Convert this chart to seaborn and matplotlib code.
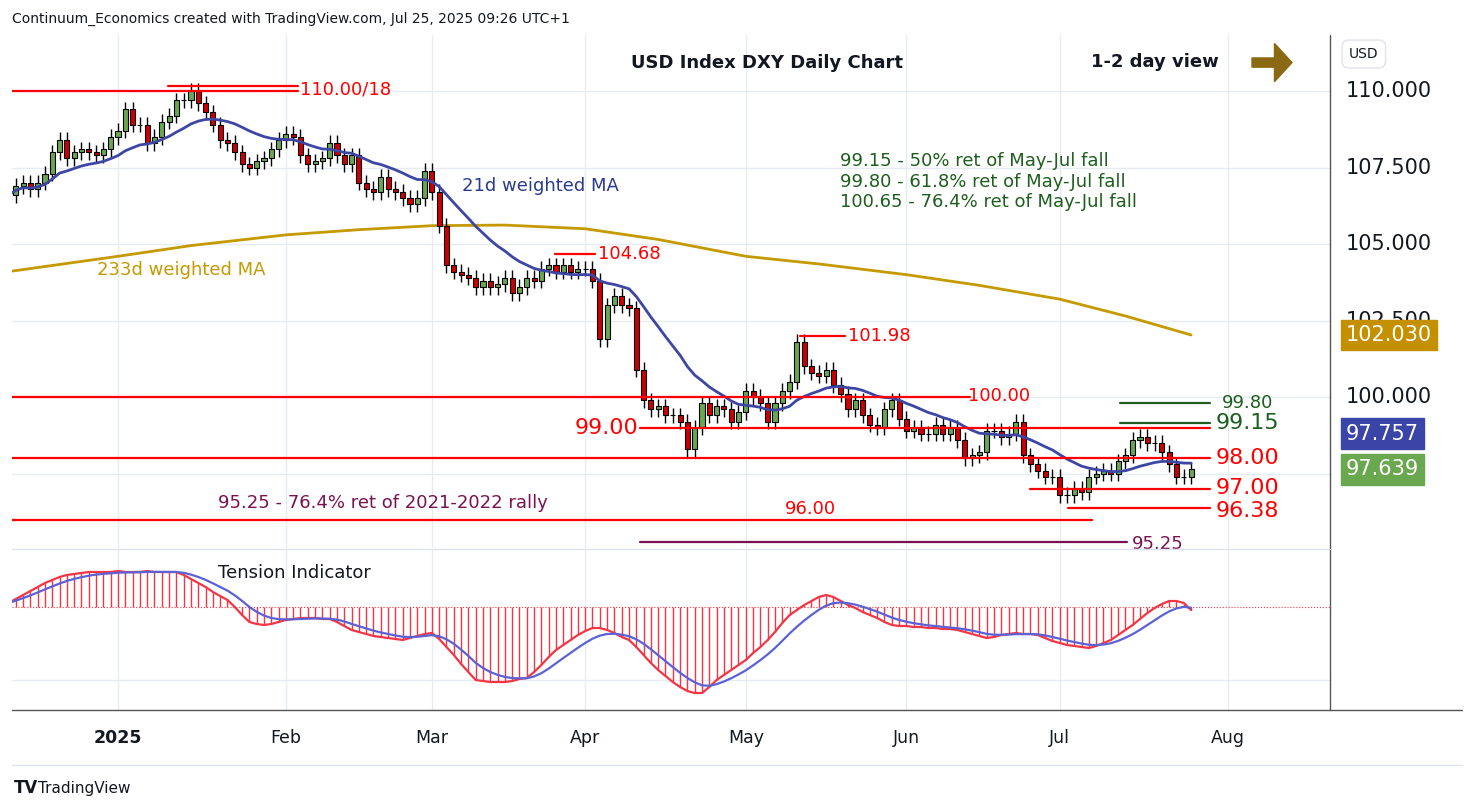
import numpy as np
import pandas as pd
import matplotlib
matplotlib.use("Agg")
import matplotlib.pyplot as plt
import matplotlib.transforms as mtransforms
from matplotlib.patches import FancyArrow
import seaborn as sns

# ---------------- data ----------------
dates = pd.bdate_range("2024-12-11", "2025-07-25")
closes = [
    106.6,106.9,107.0,106.8,107.0,107.3,108.0,108.4,107.8,108.0,108.1,108.0,107.9,108.1,108.5,
    108.7,109.4,108.9,108.9,108.3,108.5,109.0,109.2,109.7,109.7,110.0,109.6,109.3,108.9,108.4,
    108.3,108.0,107.6,107.5,107.7,107.8,108.1,108.4,
    108.6,108.5,107.9,107.6,107.7,107.8,108.3,107.9,107.6,107.9,107.0,106.8,106.7,107.2,106.8,
    106.7,106.5,106.3,106.5,107.4,
    106.7,105.6,104.3,104.1,104.0,103.9,103.6,103.8,103.6,103.7,103.9,103.4,103.6,103.9,103.8,
    104.2,104.3,104.1,104.3,104.1,104.2,
    104.2,103.8,101.9,103.0,103.3,103.0,102.9,100.9,99.9,99.6,99.7,99.4,99.4,99.2,98.3,
    99.0,99.8,99.4,99.7,99.6,99.2,99.5,
    100.2,100.0,99.8,99.2,99.8,100.2,100.5,101.8,101.0,100.8,100.7,100.9,100.4,100.1,99.6,
    99.9,99.4,99.1,99.0,99.6,99.9,99.3,
    98.9,99.0,98.8,98.8,99.1,98.8,99.0,98.6,98.0,98.1,98.2,98.9,98.9,98.7,98.8,
    99.2,98.1,97.8,97.6,97.4,97.4,
    96.8,96.8,97.0,96.9,97.4,97.5,97.6,97.5,97.9,98.1,98.6,98.7,98.5,98.5,98.2,
    97.8,97.4,97.4,97.64,
]
first_open = 106.4

ma233_dates = ["2024-12-11","2025-01-01","2025-01-15","2025-02-03","2025-02-17","2025-03-03",
               "2025-03-17","2025-04-01","2025-04-15","2025-05-01","2025-05-15","2025-06-02",
               "2025-06-16","2025-07-01","2025-07-14","2025-07-25"]
ma233_vals = [104.1,104.6,104.95,105.3,105.47,105.6,105.62,105.5,105.15,104.6,104.35,104.0,
              103.65,103.2,102.65,102.03]

tension = [
    4,8,12,16,20,24,27,30,32,
    33,34,35,35,35,35,36,35,35,35,36,35,35,35,35,
    32,28,24,20,15,11,7,
    0,-8,-15,-17,-18,
    -17,-15,-13,-12,-11,
    -11,-11,-12,-12,
    -15,-19,-23,
    -25,-27,-29,-30,-31,-32,-33,
    -31,-29,-27,-26,
    -32,-40,-48,
    -57,-65,-73,-74,-75,-75,
    -75,-74,-72,-71,
    -65,-58,-50,-43,
    -38,-33,-28,-24,-21,
    -21,-23,
    -26,-30,-33,
    -40,-48,-56,-63,
    -69,-75,-80,-84,-86,-86,
    -80,-73,
    -68,-63,-58,-53,
    -46,-40,-33,
    -25,-16,-8,
    -3,2,6,10,12,
    10,6,2,
    -1,-5,-8,
    -11,-15,-18,
    -19,-19,-20,-20,
    -21,-21,-22,-22,-23,
    -25,-27,-29,-31,
    -30,-28,-27,-26,
    -27,-27,-28,
    -31,-34,-36,-38,
    -39,-40,-41,
    -39,-36,-33,
    -28,-23,-18,
    -12,-6,-1,
    3,6,
    6,4,-3,
]

month_labels = ["2025", "Feb", "Mar", "Apr", "May", "Jun", "Jul", "Aug"]
month_starts = ["2025-01-01","2025-02-03","2025-03-03","2025-04-01","2025-05-01",
                "2025-06-02","2025-07-01","2025-08-01"]

# ---------------- derived ----------------
n = len(closes)
idx = np.arange(n)
c = np.array(closes)
o = np.concatenate([[first_open], c[:-1]])
hi = np.maximum(o, c) + 0.25
lo = np.minimum(o, c) - 0.25
allb = pd.bdate_range("2024-12-11", "2025-08-29")
pos = {d: i for i, d in enumerate(allb)}
mpos = [pos[pd.Timestamp(d)] for d in month_starts]

w = np.arange(1, 22)
wma = []
for i in range(n):
    seg = c[max(0, i - 20):i + 1]
    ww = w[-len(seg):]
    wma.append((seg * ww).sum() / ww.sum())
df = pd.DataFrame({"i": idx, "wma": wma, "t": tension})
df["tb"] = pd.Series(tension, dtype=float).ewm(span=6).mean()
ma233 = pd.DataFrame({"i": [pos[pd.Timestamp(d)] for d in ma233_dates], "v": ma233_vals})

# ---------------- figure ----------------
sns.set_theme(style="white")
plt.rcParams['font.family'] = ['DejaVu Sans']
W, H = 1474, 809
fig = plt.figure(figsize=(W / 100, H / 100), dpi=100)
fig.patch.set_facecolor("white")

def rect(x0, y0, x1, y1):
    return [x0 / W, 1 - y1 / H, (x1 - x0) / W, (y1 - y0) / H]

ax = fig.add_axes(rect(12, 35, 1330, 548))
ax2 = fig.add_axes(rect(12, 550, 1330, 710), sharex=ax)

xl = ((12 - 8.5) / 7.3, (1330 - 8.5) / 7.3)
ax.set_xlim(*xl)
ax.set_ylim(95.07, 111.83)
ax2.set_ylim(-103, 57)

for a in (ax, ax2):
    for s in a.spines.values():
        s.set_visible(False)
    a.set_yticks([])
    for m in mpos:
        a.axvline(m, color="#e6ecf2", lw=1, zorder=0)
for v in [110, 107.5, 105, 102.5, 100, 97.5]:
    ax.axhline(v, color="#e6ecf2", lw=1, zorder=0)
ax2.axhline(-73, color="#e6ecf2", lw=1, zorder=0)
ax.tick_params(axis="x", length=0, labelbottom=False)
ax2.set_xticks(mpos)
ax2.set_xticklabels(month_labels)
ax2.tick_params(axis="x", length=0, labelsize=12.5, pad=14, colors="#131722")
ax2.get_xticklabels()[0].set_fontweight("bold")

fig.add_artist(plt.Line2D([1330 / W, 1330 / W], [1 - 710 / H, 1 - 35 / H], color="#555", lw=1))
fig.add_artist(plt.Line2D([12 / W, 1330 / W], [1 - 549 / H] * 2, color="#e0e3eb", lw=1))
fig.add_artist(plt.Line2D([12 / W, 1462 / W], [1 - 710 / H] * 2, color="#555", lw=1))
fig.add_artist(plt.Line2D([12 / W, 1462 / W], [1 - 765 / H] * 2, color="#e0e3eb", lw=1))

# candles
up = c >= o
ax.vlines(idx, lo, hi, color="black", lw=1, zorder=3)
ax.bar(idx[up], (c - o)[up], bottom=o[up], width=0.7, color="#6aa84f",
       edgecolor="black", lw=0.8, zorder=4)
ax.bar(idx[~up], (c - o)[~up], bottom=o[~up], width=0.7, color="#cc0000",
       edgecolor="black", lw=0.8, zorder=4)

sns.lineplot(data=df, x="i", y="wma", ax=ax, color="#3d47a3", lw=2, zorder=5, legend=False)
sns.lineplot(data=ma233, x="i", y="v", ax=ax, color="#c49a00", lw=2, zorder=2, legend=False)
ax.set_xlabel(""); ax.set_ylabel("")

def px2i(x):
    return (x - 8.5) / 7.3

red = "#ff0000"
def hline(y, x0, x1, col=red, lw=1.6):
    ax.plot([px2i(x0), px2i(x1)], [y, y], color=col, lw=lw, zorder=6)

hline(110.0, 12, 298); hline(110.18, 168, 298)
hline(104.68, 555, 595); hline(101.98, 800, 845)
hline(100.0, 12, 970); hline(99.0, 640, 1210); hline(98.0, 12, 1210)
hline(97.0, 1030, 1210); hline(96.38, 1068, 1210); hline(96.0, 12, 1092)
hline(95.25, 640, 1127, col="#7b1150")
hline(99.80, 1120, 1210, col="#1e5e1e"); hline(99.15, 1120, 1210, col="#1e5e1e")

def txt(x, y, s, col, size, **kw):
    ax.text(px2i(x), y, s, color=col, fontsize=size, va="center", zorder=7, **kw)

M = 13
B = 16
txt(300, 110.05, "110.00/18", red, M)
txt(598, 104.68, "104.68", red, M)
txt(848, 101.98, "101.98", red, M)
txt(968, 100.05, "100.00", red, M)
txt(638, 99.0, "99.00", red, B, ha="right")
txt(785, 96.33, "96.00", red, M)
txt(1132, 95.2, "95.25", "#7b1150", M)
txt(1222, 99.8, "99.80", "#1e5e1e", M)
txt(1216, 99.15, "99.15", "#1e5e1e", B)
txt(1216, 98.0, "98.00", red, B)
txt(1216, 97.03, "97.00", red, B)
txt(1216, 96.27, "96.38", red, B)
txt(218, 96.55, "95.25 - 76.4% ret of 2021-2022 rally", "#7b1150", M)
txt(97, 104.14, "233d weighted MA", "#c49a00", M)
txt(462, 106.9, "21d weighted MA", "#2a3a8f", M)
txt(840, 107.7, "99.15 - 50% ret of May-Jul fall", "#1e5e1e", M)
txt(840, 107.03, "99.80 - 61.8% ret of May-Jul fall", "#1e5e1e", M)
txt(840, 106.36, "100.65 - 76.4% ret of May-Jul fall", "#1e5e1e", M)
txt(767, 110.93, "USD Index DXY Daily Chart", "#131722", M, ha="center", fontweight="bold")
txt(1155, 110.96, "1-2 day view", "#131722", M, ha="center", fontweight="bold")
ax.add_patch(FancyArrow(px2i(1252), 110.93, px2i(1292) - px2i(1252), 0, width=0.3,
                        head_width=1.25, head_length=2.4, length_includes_head=True,
                        color="#8b6914", zorder=7))

# right price labels
tr = mtransforms.blended_transform_factory(fig.transFigure, ax.transData)
for v, s in [(110, "110.000"), (107.5, "107.500"), (105, "105.000"), (102.5, "102.500"), (100, "100.000")]:
    ax.text(1346 / W, v, s, transform=tr, fontsize=15, color="#131722", va="center",
            clip_on=False, zorder=8)
def tag(v, s, col):
    ax.text(1346 / W, v, s, transform=tr, fontsize=15, color="white", va="center", clip_on=False,
            zorder=10, bbox=dict(boxstyle="square,pad=0.25", fc=col, ec=col))
tag(102.03, "102.030", "#c49000")
tag(97.757 + 1.05, "97.757", "#3b45a8")
tag(97.639, "97.639", "#6aa84f")
fig.text(1349 / W, 1 - 54 / H, "USD", fontsize=10, color="#131722", va="center",
         bbox=dict(boxstyle="round,pad=0.5", fc="white", ec="#e0e3eb"))

# tension indicator
ax2.vlines(idx, 0, df["t"], color="#f23645", lw=1, zorder=2)
ax2.axhline(0, color="#f23645", lw=0.8, ls=":", zorder=1)
sns.lineplot(data=df, x="i", y="t", ax=ax2, color="#f23645", lw=1.6, zorder=3, legend=False)
sns.lineplot(data=df, x="i", y="tb", ax=ax2, color="#5a62d6", lw=1.6, zorder=4, legend=False)
ax2.set_xlabel(""); ax2.set_ylabel("")
ax2.text(px2i(218), 34, "Tension Indicator", fontsize=13, color="#131722", va="center")

fig.text(12 / W, 1 - 19 / H, "Continuum_Economics created with TradingView.com, Jul 25, 2025 09:26 UTC+1",
         fontsize=10, color="#131722", va="center")
fig.text(14 / W, 1 - 788 / H, "TV", fontsize=12, fontweight="bold", color="#131722", va="center")
fig.text(38 / W, 1 - 788 / H, "TradingView", fontsize=11, color="#131722", va="center")

fig.savefig("out.png", dpi=100)
